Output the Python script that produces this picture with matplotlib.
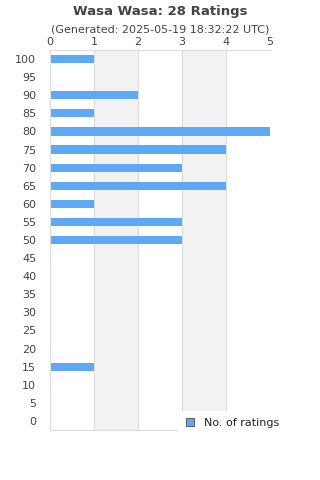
import matplotlib
matplotlib.use("Agg")
import matplotlib.pyplot as plt
from matplotlib.patches import Patch, Rectangle

title = "Wasa Wasa: 28 Ratings"
subtitle = "(Generated: 2025-05-19 18:32:22 UTC)"
scores = [100, 95, 90, 85, 80, 75, 70, 65, 60, 55, 50, 45, 40, 35, 30, 25, 20, 15, 10, 5, 0]
counts = [1, 0, 2, 1, 5, 4, 3, 4, 1, 3, 3, 0, 0, 0, 0, 0, 0, 1, 0, 0, 0]

bar_color = "#5fa8f5"
text_color = "#444444"

fig = plt.figure(figsize=(3.2, 4.8), dpi=100)
ax = fig.add_axes([50 / 320, 50 / 480, 220 / 320, 380 / 480])

pos = list(range(len(scores)))
ax.set_xlim(0, 5)
ax.set_ylim(len(scores) - 0.5, -0.5)

for x0 in (1, 3):
    ax.axvspan(x0, x0 + 1, color="#f2f2f2", zorder=0)
for x in range(1, 6):
    ax.axvline(x, color="#dddddd", lw=0.8, zorder=1)

ax.barh(pos, counts, height=0.45, color=bar_color, zorder=2)

ax.set_yticks(pos)
ax.set_yticklabels([str(s) for s in scores])
ax.set_xticks(range(6))
ax.xaxis.tick_top()
ax.tick_params(length=0, labelsize=8, colors=text_color, pad=2)
ax.tick_params(axis="y", pad=10)

ax.spines["right"].set_visible(False)
for side in ("left", "top", "bottom"):
    ax.spines[side].set_color("#dddddd")
    ax.spines[side].set_linewidth(0.8)

fig.text(0.5, 1 - 11 / 480, title, ha="center", va="center", fontsize=9.5,
         fontweight="bold", color=text_color)
fig.text(0.5, 1 - 29 / 480, subtitle, ha="center", va="center", fontsize=8,
         color=text_color)

# white legend box covering the lower right corner of the plot
fig.add_artist(Rectangle((178 / 320, 1 - 450 / 480), 140 / 320, 39 / 480,
                         transform=fig.transFigure, facecolor="white",
                         edgecolor="none", zorder=5))

handle = Patch(facecolor=bar_color, edgecolor="#666666", linewidth=0.8)
leg = fig.legend([handle], ["No. of ratings"], loc="center left",
                 bbox_to_anchor=(176 / 320, 1 - 423 / 480), frameon=False,
                 fontsize=8, handlelength=0.7, handleheight=0.7,
                 handletextpad=0.9, borderpad=0.4)
leg.set_zorder(6)
for t in leg.get_texts():
    t.set_color("#222222")

fig.savefig("out.png", dpi=100)
